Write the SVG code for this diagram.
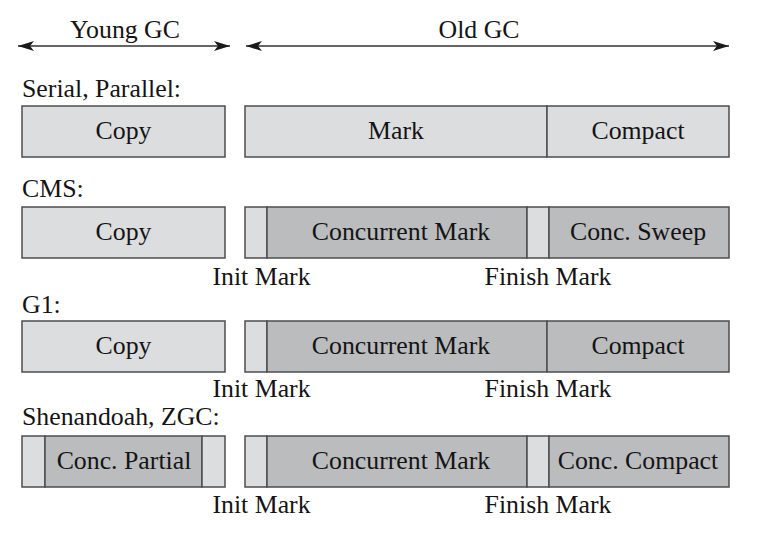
<svg xmlns="http://www.w3.org/2000/svg" width="770" height="542" viewBox="0 0 770 542">
  <defs>
    <marker id="ah" viewBox="0 0 16 10" refX="16" refY="5" markerWidth="16" markerHeight="10" markerUnits="userSpaceOnUse" orient="auto-start-reverse">
      <path d="M0,0 L16,5 L0,10 L4,5 z" fill="#1a1a1a"/>
    </marker>
  </defs>
  <style>
    text { font-family: "Liberation Serif", "Times New Roman", serif; font-size: 25.8px; fill: #141414; }
    .c { text-anchor: middle; }
    .lt { fill: #dcdddf; stroke: #4d4d4d; stroke-width: 1.5; }
    .dk { fill: #bbbcbe; stroke: #4d4d4d; stroke-width: 1.5; }
    .ln { stroke: #333; stroke-width: 1.5; fill: none; }
  </style>
  <rect width="770" height="542" fill="#ffffff"/>

  <g id="connectors">
    <line class="ln" x1="18" y1="46" x2="230" y2="46" marker-start="url(#ah)" marker-end="url(#ah)"/>
    <line class="ln" x1="246" y1="46" x2="729" y2="46" marker-start="url(#ah)" marker-end="url(#ah)"/>
  </g>

  <g id="headers">
    <text class="c" x="125" y="38">Young GC</text>
    <text class="c" x="479" y="38">Old GC</text>
  </g>

  <g id="serial">
    <text x="22" y="97">Serial, Parallel:</text>
    <g id="serial-young">
      <rect class="lt" x="22" y="106" width="203" height="51"/>
      <text class="c" x="123.5" y="139">Copy</text>
    </g>
    <g id="serial-old">
      <rect class="lt" x="245" y="106" width="302" height="51"/>
      <rect class="lt" x="547" y="106" width="182" height="51"/>
      <text class="c" x="396" y="139">Mark</text>
      <text class="c" x="638" y="139">Compact</text>
    </g>
  </g>

  <g id="cms">
    <text x="22" y="197">CMS:</text>
    <g id="cms-young">
      <rect class="lt" x="22" y="207" width="203" height="51"/>
      <text class="c" x="123.5" y="240">Copy</text>
    </g>
    <g id="cms-old">
      <rect class="lt" x="245" y="207" width="22" height="51"/>
      <rect class="dk" x="267" y="207" width="260" height="51"/>
      <rect class="lt" x="527" y="207" width="22" height="51"/>
      <rect class="dk" x="549" y="207" width="180" height="51"/>
      <text class="c" x="401" y="240">Concurrent Mark</text>
      <text class="c" x="638" y="240">Conc. Sweep</text>
    </g>
    <text class="c" x="261.5" y="285">Init Mark</text>
    <text class="c" x="548" y="285">Finish Mark</text>
  </g>

  <g id="g1">
    <text x="22" y="313">G1:</text>
    <g id="g1-young">
      <rect class="lt" x="22" y="321" width="203" height="51"/>
      <text class="c" x="123.5" y="354">Copy</text>
    </g>
    <g id="g1-old">
      <rect class="lt" x="245" y="321" width="22" height="51"/>
      <rect class="dk" x="267" y="321" width="280" height="51"/>
      <rect class="dk" x="547" y="321" width="182" height="51"/>
      <text class="c" x="401" y="354">Concurrent Mark</text>
      <text class="c" x="638" y="354">Compact</text>
    </g>
    <text class="c" x="261.5" y="397">Init Mark</text>
    <text class="c" x="548" y="397">Finish Mark</text>
  </g>

  <g id="shenandoah">
    <text x="22" y="425">Shenandoah, ZGC:</text>
    <g id="shen-young">
      <rect class="lt" x="22" y="436" width="23" height="51"/>
      <rect class="dk" x="45" y="436" width="157" height="51"/>
      <rect class="lt" x="202" y="436" width="23" height="51"/>
      <text class="c" x="124" y="469">Conc. Partial</text>
    </g>
    <g id="shen-old">
      <rect class="lt" x="245" y="436" width="22" height="51"/>
      <rect class="dk" x="267" y="436" width="260" height="51"/>
      <rect class="lt" x="527" y="436" width="22" height="51"/>
      <rect class="dk" x="549" y="436" width="180" height="51"/>
      <text class="c" x="401" y="469">Concurrent Mark</text>
      <text class="c" x="638" y="469">Conc. Compact</text>
    </g>
    <text class="c" x="261.5" y="513">Init Mark</text>
    <text class="c" x="548" y="513">Finish Mark</text>
  </g>
</svg>
